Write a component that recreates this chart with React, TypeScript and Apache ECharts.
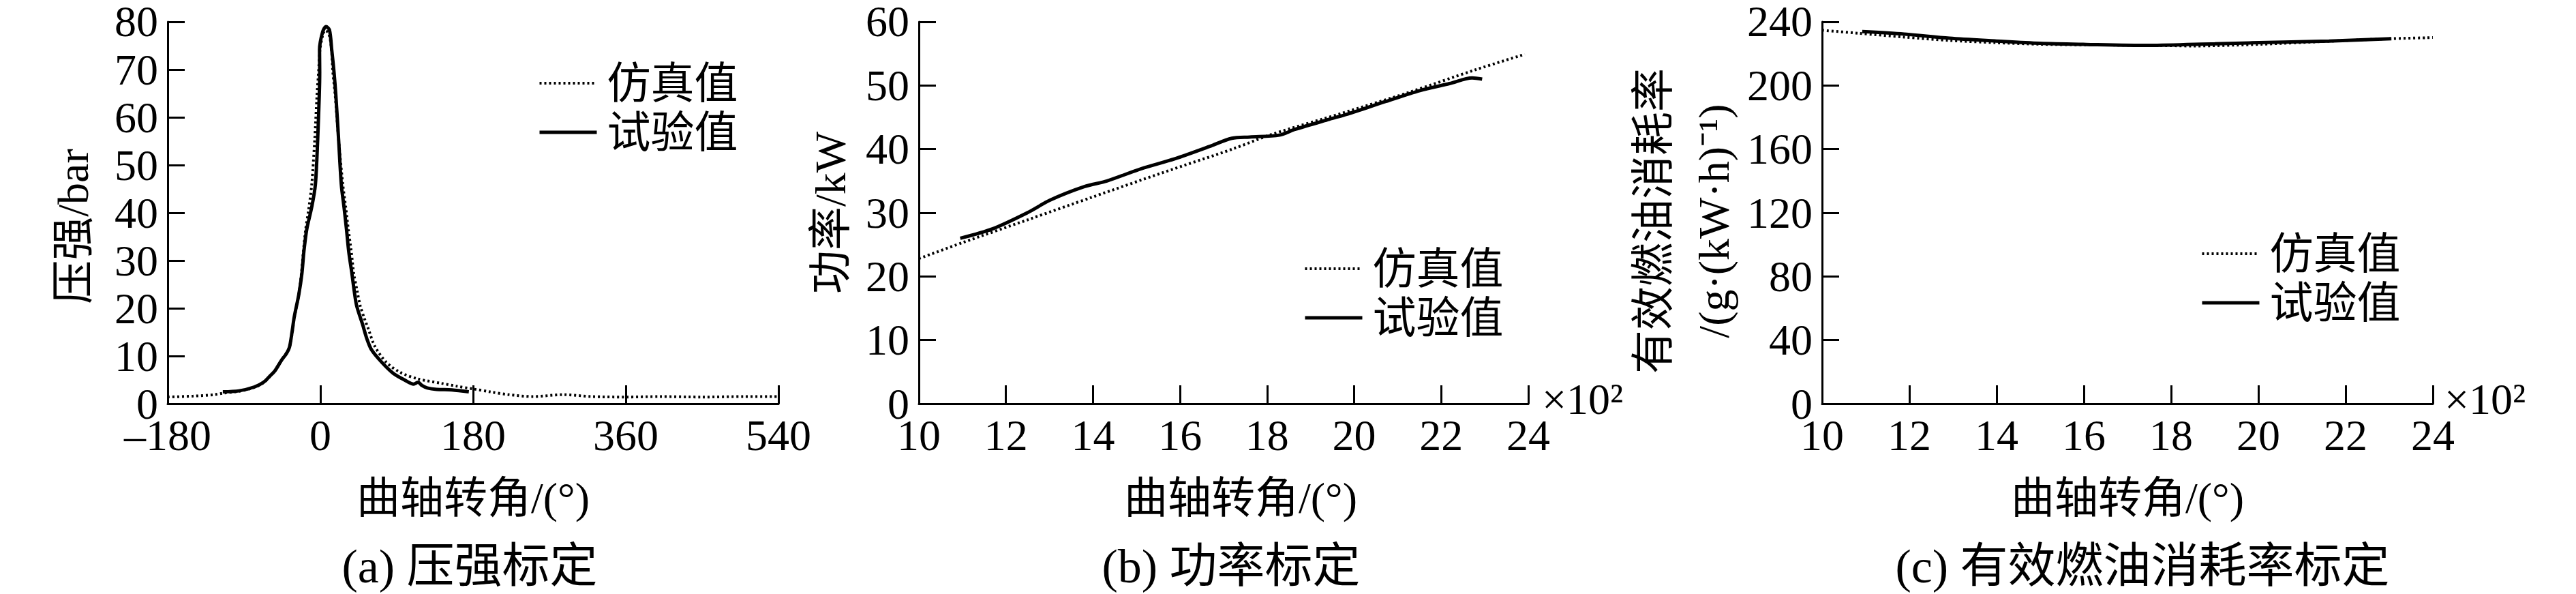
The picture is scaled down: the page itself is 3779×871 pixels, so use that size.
import React, { useEffect, useRef } from 'react';
import * as echarts from 'echarts';

const FONT = "'Liberation Serif', 'Times New Roman', 'Noto Sans CJK SC', serif";

const simName = '仿真值';
const expName = '试验值';
const captions = ['(a) 压强标定', '(b) 功率标定', '(c) 有效燃油消耗率标定'];
const yNames = ['压强/bar', '功率/kW', '有效燃油消耗率\n/(g·(kW·h)⁻¹)'];
const xName = '曲轴转角/(°)';
const xScaleNote = '×10²';

// x ranges / ticks
const xRangeA = { min: -180, max: 540, interval: 180 };
const yRangeA = { min: 0, max: 80, interval: 10 };
const xRangeB = { min: 10, max: 24, interval: 2 };
const yRangeB = { min: 0, max: 60, interval: 10 };
const xRangeC = { min: 10, max: 24, interval: 2 };
const yRangeC = { min: 0, max: 240, interval: 40 };

// (a) pressure vs crank angle
const pressureSim: [number, number][] = [
  [-180, 1.4], [-150, 1.6], [-125, 1.9], [-115, 2.2], [-96, 2.6], [-78, 3.4], [-67, 4.4],
  [-59, 5.8], [-53.6, 6.9], [-45.5, 9.2], [-37, 11.6], [-33.5, 14.5], [-30.5, 18.2],
  [-25.5, 22.8], [-22.5, 27.1], [-20.1, 31.8], [-17.4, 36.5], [-14, 40.5], [-10.2, 45.9],
  [-6.7, 55.3], [-4, 64.7], [-2.2, 69.4], [-0.5, 74.1], [2.5, 77], [5.5, 78.2], [9, 77.8],
  [11.5, 76.4], [13.2, 74], [14.7, 69.4], [17.4, 64.7], [21.5, 55.3], [26.5, 45.9],
  [30, 41], [33, 36.5], [36.5, 31.8], [39.5, 27.1], [43.5, 23.5], [47, 20.5], [52, 17.8],
  [56.3, 15.8], [64.3, 12.0], [77.7, 8.7], [93.8, 6.6], [115, 5.2], [142, 4.3], [160, 3.7],
  [180, 3.1], [200, 2.5], [222, 1.9], [250, 1.5], [286, 1.9], [320, 1.5], [360, 1.4],
  [400, 1.5], [450, 1.4], [500, 1.5], [540, 1.5],
];
const pressureExp: [number, number][] = [
  [-115, 2.5], [-96, 2.7], [-78, 3.5], [-67, 4.5], [-59, 5.9], [-53.6, 6.9], [-45.5, 9.2],
  [-40, 10.5], [-36.5, 11.8], [-33.5, 14.9], [-30.8, 18.2], [-25.5, 22.8], [-21.9, 27.1],
  [-19.5, 31.8], [-16.1, 36.5], [-10.2, 41.2], [-5.9, 45.9], [-3.2, 55.3], [-1.3, 64.7],
  [-0.8, 69.4], [-1.0, 74.1], [2.7, 77.9], [6.7, 79], [10.7, 78.3], [13.4, 74.1],
  [16.1, 69.4], [18.2, 64.7], [21.5, 55.3], [24.7, 45.9], [28, 41], [30.8, 36.5],
  [33.5, 31.8], [37, 27.5], [40, 23.5], [42.8, 20.5], [49.6, 16.7], [55, 13.5],
  [60.3, 11.3], [72.3, 8.7], [85.7, 6.4], [99, 5.0], [110, 4.1], [115, 4.5], [120, 3.8],
  [126, 3.3], [137, 3.0], [155, 2.9], [175, 2.5],
];

// (b) power vs speed (x10^2)
const powerSim: [number, number][] = [
  [10, 22.8], [11, 25.3], [12.5, 28.9], [14, 32.5], [15.6, 36.3], [17.2, 40.0],
  [18.1, 42.3], [19.7, 45.6], [21.25, 48.9], [22.8, 52.5], [23.92, 54.9],
];
const powerExp: [number, number][] = [
  [10.95, 26.0], [11.7, 27.5], [12.49, 30.0], [13.02, 32.0], [13.8, 34.1], [14.32, 35.0],
  [15.1, 36.9], [15.89, 38.5], [16.67, 40.4], [17.19, 41.7], [17.6, 41.9], [18.28, 42.2],
  [18.64, 43.1], [19.43, 44.7], [19.84, 45.5], [20.73, 47.5], [21.51, 49.2], [22.19, 50.3],
  [22.71, 51.2], [22.94, 51.0],
];

// (c) effective fuel consumption rate vs speed (x10^2)
const bsfcSim: [number, number][] = [
  [10, 234.7], [10.84, 232.8], [11.88, 230.4], [12.92, 228.3], [13.96, 226.9], [15, 225.9],
  [16.05, 225.5], [17.6, 225.2], [18.5, 224.8], [20.06, 225.9], [21.62, 227.8],
  [22.92, 229.3], [24, 230.1],
];
const bsfcExp: [number, number][] = [
  [10.92, 233.9], [11.88, 232.3], [12.92, 229.7], [13.96, 228.0], [15, 226.5],
  [16.05, 225.8], [17.5, 225.2], [19, 226.2], [20.58, 227.3], [21.62, 227.9], [23.05, 229.4],
];

const BLACK = '#000';
const SIM_LINE = { color: BLACK, width: 4, type: [3, 4] as number[] };
const EXP_LINE = { color: BLACK, width: 5, type: 'solid' };

function xAxisDef(gridIndex: number, range: any, namePadding: number[] = [0, 0, 0, 0]) {
  return {
    type: 'value',
    gridIndex,
    ...range,
    name: xName,
    nameLocation: 'middle',
    nameGap: 106,
    nameTextStyle: { fontFamily: FONT, fontSize: 64, color: BLACK, lineHeight: 64, padding: namePadding },
    axisLine: { show: true, onZero: false, lineStyle: { color: BLACK, width: 3 } },
    axisTick: { show: true, inside: true, length: 27, lineStyle: { color: BLACK, width: 3 } },
    axisLabel: {
      fontFamily: FONT, fontSize: 64, color: BLACK, margin: 26, lineHeight: 40,
      formatter: (v: number) => String(v).replace('-', '–'),
    },
    splitLine: { show: false },
  };
}

function yAxisDef(gridIndex: number, range: any, name: string, nameGap: number, padding: number[], lineHeight = 64) {
  return {
    type: 'value',
    gridIndex,
    ...range,
    name,
    nameLocation: 'middle',
    nameGap,
    nameTextStyle: { fontFamily: FONT, fontSize: 64, color: BLACK, lineHeight, padding },
    axisLine: { show: true, onZero: false, lineStyle: { color: BLACK, width: 3 } },
    axisTick: { show: true, inside: true, length: 25, lineStyle: { color: BLACK, width: 3 } },
    axisLabel: { fontFamily: FONT, fontSize: 64, color: BLACK, margin: 14, lineHeight: 40, padding: [8, 0, 0, 0] },
    splitLine: { show: false },
  };
}

function simSeries(i: number, data: [number, number][]) {
  return {
    name: simName, type: 'line', xAxisIndex: i, yAxisIndex: i, data,
    symbol: 'none', smooth: 0.3,
    lineStyle: SIM_LINE,
    itemStyle: { color: BLACK },
  };
}
function expSeries(i: number, data: [number, number][]) {
  return {
    name: expName, type: 'line', xAxisIndex: i, yAxisIndex: i, data,
    symbol: 'none', smooth: 0.3,
    lineStyle: EXP_LINE,
    itemStyle: { color: BLACK },
  };
}

function legendDef(left: number, top: number) {
  return {
    left, top, orient: 'vertical', itemWidth: 84, itemHeight: 14, itemGap: 8,
    selectedMode: false,
    itemStyle: { opacity: 0, borderWidth: 0 },
    data: [
      { name: simName, lineStyle: SIM_LINE, itemStyle: { opacity: 0, borderWidth: 0 } },
      { name: expName, lineStyle: EXP_LINE, itemStyle: { opacity: 0, borderWidth: 0 } },
    ],
    textStyle: { fontFamily: FONT, fontSize: 64, color: BLACK, lineHeight: 64, padding: [0, 0, 0, 10] },
  };
}

function textEl(text: string, x: number, y: number, size: number, align = 'center') {
  return {
    type: 'text', x, y,
    style: {
      text, fill: BLACK, font: `${size}px ${FONT}`, lineHeight: size - 6,
      textAlign: align, textVerticalAlign: 'middle', align, verticalAlign: 'middle',
    },
  };
}

export default function App() {
  const ref = useRef<HTMLDivElement>(null);
  useEffect(() => {
    if (!ref.current) return;
    const chart = echarts.init(ref.current, null, { renderer: 'svg' });
    chart.setOption({
      animation: false,
      backgroundColor: '#fff',
      grid: [
        { left: 246, top: 25, width: 896, height: 567 },
        { left: 1348, top: 25, width: 894, height: 567 },
        { left: 2673, top: 25, width: 896, height: 567 },
      ],
      xAxis: [
        xAxisDef(0, xRangeA),
        xAxisDef(1, xRangeB, [0, 0, 0, 50]),
        xAxisDef(2, xRangeC),
      ],
      yAxis: [
        yAxisDef(0, yRangeA, yNames[0], 107, [0, 40, 0, 0]),
        yAxisDef(1, yRangeB, yNames[1], 98, [0, 0, 0, 0]),
        yAxisDef(2, yRangeC, yNames[2], 106, [0, 24, 0, 0], 89),
      ],
      legend: [legendDef(784, 85), legendDef(1907, 357), legendDef(3223, 335)],
      series: [
        simSeries(0, pressureSim), expSeries(0, pressureExp),
        simSeries(1, powerSim), expSeries(1, powerExp),
        simSeries(2, bsfcSim), expSeries(2, bsfcExp),
      ],
      graphic: [
        textEl(captions[0], 689, 830, 70),
        textEl(captions[1], 1806, 830, 70),
        textEl(captions[2], 3143, 830, 70),
        textEl(xScaleNote, 2262, 585, 64, 'left'),
        textEl(xScaleNote, 3586, 585, 64, 'left'),
      ],
    });
    return () => chart.dispose();
  }, []);
  return (
    <div
      ref={ref}
      style={{ position: 'fixed', left: 0, top: 0, width: 3779, height: 871, background: '#fff' }}
    />
  );
}
